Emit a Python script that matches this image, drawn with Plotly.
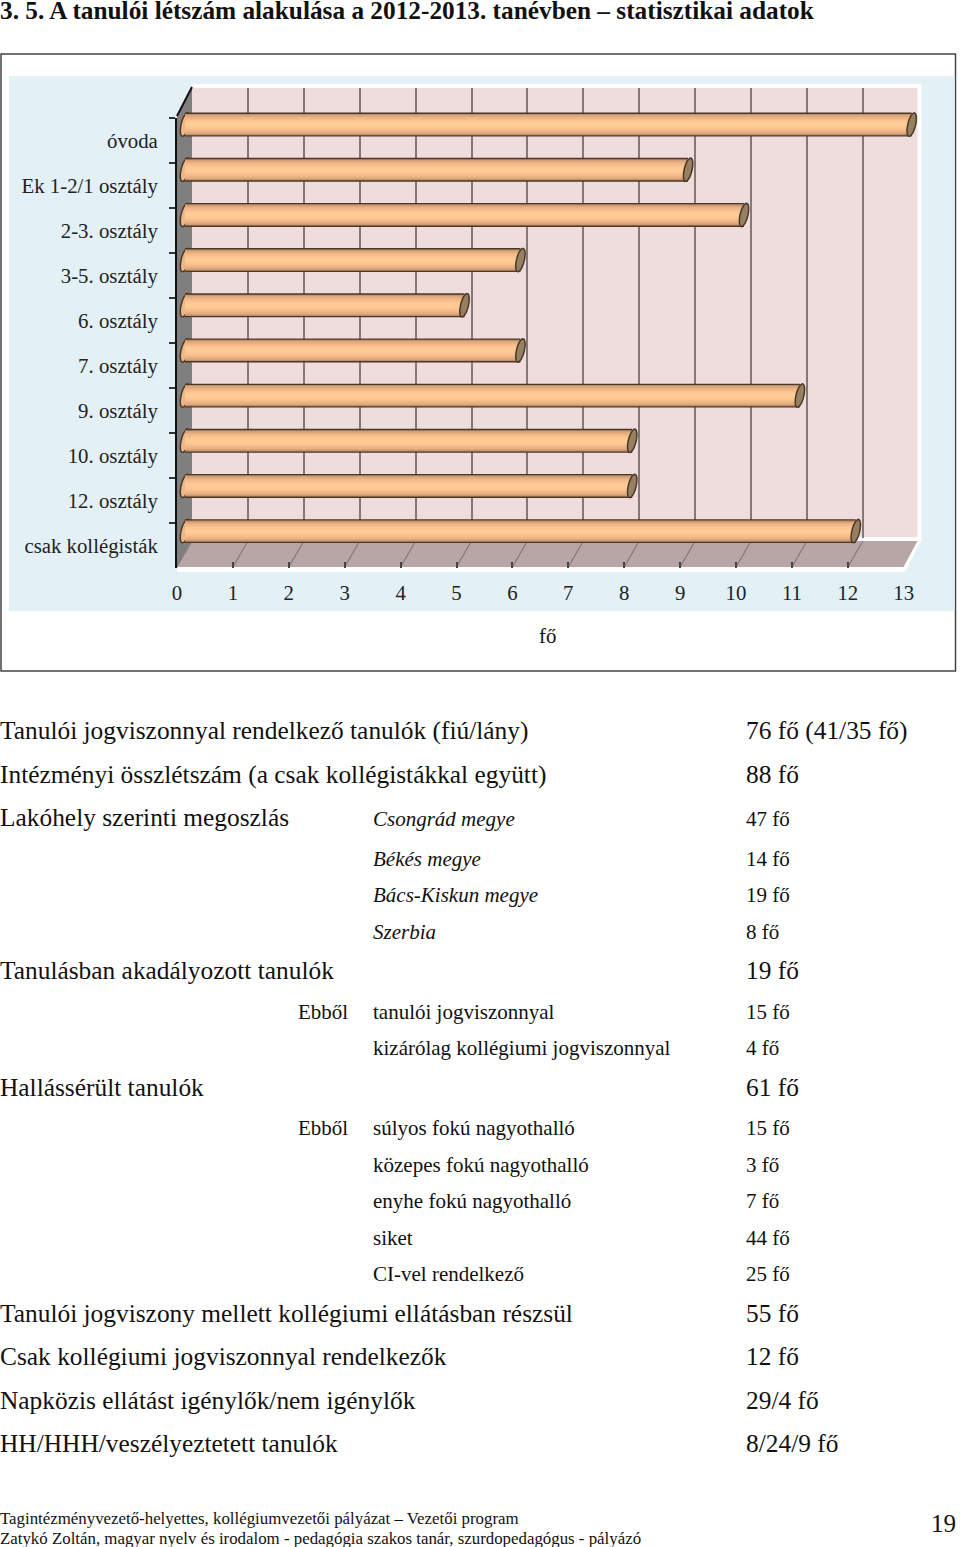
"""Tanulói létszám chart with the statistics table below it, drawn on one Plotly page."""

import math
import plotly.graph_objects as go

W, H = 960, 1547
SERIF = "Liberation Serif"

categories = ["óvoda", "Ek 1-2/1 osztály", "2-3. osztály", "3-5. osztály", "6. osztály",
              "7. osztály", "9. osztály", "10. osztály", "12. osztály", "csak kollégisták"]
counts = [13, 9, 10, 6, 5, 6, 11, 8, 8, 12]
x_ticks = list(range(14))

title_text = "3. 5. A tanulói létszám alakulása a 2012-2013. tanévben – statisztikai adatok"
axis_title = "fő"

main_labels = ["Tanulói jogviszonnyal rendelkező tanulók (fiú/lány)",
               "Intézményi összlétszám (a csak kollégistákkal együtt)",
               "Lakóhely szerinti megoszlás",
               "Tanulásban akadályozott tanulók",
               "Hallássérült tanulók",
               "Tanulói jogviszony mellett kollégiumi ellátásban részsül",
               "Csak kollégiumi jogviszonnyal rendelkezők",
               "Napközis ellátást igénylők/nem igénylők",
               "HH/HHH/veszélyeztetett tanulók"]
main_values = ["76 fő (41/35 fő)", "88 fő", "", "19 fő", "61 fő", "55 fő", "12 fő", "29/4 fő", "8/24/9 fő"]
main_rows = [730, 774, 817, 970, 1087, 1313, 1356, 1400, 1443]

county_labels = ["Csongrád megye", "Békés megye", "Bács-Kiskun megye", "Szerbia"]
county_values = ["47 fő", "14 fő", "19 fő", "8 fő"]
county_rows = [819, 859, 895, 932]

detail_labels = ["tanulói jogviszonnyal", "kizárólag kollégiumi jogviszonnyal",
                 "súlyos fokú nagyothalló", "közepes fokú nagyothalló", "enyhe fokú nagyothalló",
                 "siket", "CI-vel rendelkező"]
detail_values = ["15 fő", "4 fő", "15 fő", "3 fő", "7 fő", "44 fő", "25 fő"]
detail_rows = [1012, 1048, 1128, 1165, 1201, 1238, 1274]
ebbol_rows = [1012, 1128]

footer_lines = ["Tagintézményvezető-helyettes, kollégiumvezetői pályázat – Vezetői program",
                "Zatykó Zoltán, magyar nyelv és irodalom - pedagógia szakos tanár, szurdopedagógus - pályázó"]
footer_rows = [1518, 1538]
page_number = "19"

# tube shading: outer layer first, each one painted over the last
tube_widths = [0.53, 0.47, 0.42, 0.36, 0.30, 0.24, 0.18, 0.12, 0.06]
tube_colors = ["#4a3828", "#c08f68", "#dca67a", "#e8b080", "#efb888", "#f6be8e", "#fbc490", "#fec993", "#ffcc96"]


def fx(px):
    return px / W


def fy(py):
    return 1 - py / H


def poly(points, fill):
    path = "M " + " L ".join(f"{fx(a):.5f},{fy(b):.5f}" for a, b in points) + " Z"
    return dict(type="path", path=path, xref="paper", yref="paper", fillcolor=fill,
                line_width=0, layer="below")


def seg(x0, y0, x1, y1, color, width):
    return dict(type="line", xref="paper", yref="paper", x0=fx(x0), y0=fy(y0), x1=fx(x1), y1=fy(y1),
                line=dict(color=color, width=width), layer="below")


def cap(value, row, fill, layer):
    # slanted end of the tube, in the bar axes' own units
    pts = []
    for k in range(24):
        t = 2 * math.pi * k / 24
        xv = value + (4.0 * math.cos(t) + 2.5 * math.sin(t)) / 55.9
        yv = row - 11.7 * math.sin(t) / 45.17
        pts.append(f"{xv:.4f},{yv:.4f}")
    return dict(type="path", path="M " + " L ".join(pts) + " Z", xref="x3", yref="y3",
                fillcolor=fill, line=dict(color="#4a3828", width=1.5), layer=layer)


def label(text, x, y, size, **kw):
    # annotations render about 1px right of their anchor
    return dict(text=text, x=fx(x - 1), y=fy(y), xref="paper", yref="paper", xanchor=kw.pop("xanchor", "left"),
                yanchor="middle", showarrow=False, borderpad=0,
                font=dict(family=SERIF, size=size, color="#111111"), **kw)


fig = go.Figure()

# empty traces so the wall axes and the front axes are drawn
fig.add_trace(go.Scatter(x=x_ticks, y=[0] * len(x_ticks), xaxis="x", yaxis="y", mode="none", hoverinfo="skip"))
fig.add_trace(go.Bar(x=counts, y=categories, orientation="h", xaxis="x2", yaxis="y2", opacity=0, hoverinfo="skip"))

row_index = list(range(len(categories)))
for width, color in zip(tube_widths, tube_colors):
    fig.add_trace(go.Bar(x=counts, y=row_index, orientation="h", xaxis="x3", yaxis="y3",
                         width=width, marker=dict(color=color, line_width=0), hoverinfo="skip"))

shapes = [
    dict(type="rect", xref="paper", yref="paper", x0=fx(1), y0=fy(54), x1=fx(955.5), y1=fy(671),
         line=dict(color="#444444", width=1.5), fillcolor="white", layer="below"),
    dict(type="rect", xref="paper", yref="paper", x0=fx(9), y0=fy(76), x1=fx(954.5), y1=fy(611),
         line_width=0, fillcolor="#e3f0f6", layer="below"),
    poly([(192, 84), (921.5, 84), (921.5, 540), (905, 572), (177, 572), (177, 568)], "#ffffff"),
    dict(type="rect", xref="paper", yref="paper", x0=fx(192), y0=fy(88), x1=fx(917.5), y1=fy(537),
         line_width=0, fillcolor="#efdcdc", layer="below"),
    poly([(178, 567), (192, 541), (917.5, 541), (903.5, 567)], "#b8a6a6"),
    poly([(177, 116), (192, 87), (192, 540), (177, 568)], "#7f7f7f"),
    seg(177, 116, 192, 87, "#111111", 2),
]
for k in x_ticks[:-1]:
    shapes.append(seg(177 + 55.9 * k, 567, 192 + 55.9 * k, 541, "#857878", 1.2))
for i, v in zip(row_index, counts):
    shapes.append(cap(0, i, "#f0b684", "below"))
    shapes.append(cap(v, i, "#97805f", "above"))

notes = [label("<b>" + title_text + "</b>", 0, 10.5, 25.3)]
notes.append(label(axis_title, 548, 635, 20.8, xanchor="center"))
for text, value, y in zip(main_labels, main_values, main_rows):
    notes.append(label(text, 0, y, 25.4))
    if value:
        notes.append(label(value, 746, y, 25.4))
for text, value, y in zip(county_labels, county_values, county_rows):
    notes.append(label(f"<i>{text}</i>", 373, y, 21))
    notes.append(label(value, 746, y, 21))
for text, value, y in zip(detail_labels, detail_values, detail_rows):
    notes.append(label(text, 373, y, 21))
    notes.append(label(value, 746, y, 21))
for y in ebbol_rows:
    notes.append(label("Ebből", 298, y, 21))
for text, y in zip(footer_lines, footer_rows):
    notes.append(label(text, 0, y, 16.85))
notes.append(label(page_number, 958, 1523, 25, xanchor="right"))

fig.update_layout(
    width=W,
    height=H,
    autosize=False,
    margin=dict(l=0, r=0, t=0, b=0, autoexpand=False),
    paper_bgcolor="white",
    plot_bgcolor="rgba(0,0,0,0)",
    showlegend=False,
    barmode="overlay",
    shapes=shapes,
    annotations=notes,
    # back wall
    xaxis=dict(domain=[fx(192), fx(918.7)], range=[0, 13], anchor="y", tickvals=x_ticks, showgrid=True,
               gridcolor="#857878", gridwidth=1.5, showticklabels=False, zeroline=False, ticks=""),
    yaxis=dict(domain=[fy(538), fy(88)], range=[0, 1], anchor="x", visible=False),
    # front axes with the labels
    xaxis2=dict(domain=[fx(177), fx(903.7)], range=[0, 13], anchor="y2", tickmode="array", tickvals=x_ticks,
                showgrid=False, zeroline=False, ticks="inside", ticklen=6, tickwidth=1.5, tickcolor="#444444",
                ticklabelstandoff=10, tickfont=dict(family=SERIF, size=20.8, color="#222222")),
    yaxis2=dict(domain=[fy(568), fy(118)], type="category", categoryorder="array", categoryarray=categories,
                autorange="reversed", anchor="x2", tickson="boundaries", ticks="outside", ticklen=6, tickwidth=1.5,
                tickcolor="#333333", showline=True, linecolor="#111111", linewidth=2, showgrid=False,
                ticklabelstandoff=13, tickfont=dict(family=SERIF, size=20.8, color="#222222")),
    # tubes sit part way between the wall and the front; range runs past 0 and 13 so the end caps are not clipped
    xaxis3=dict(domain=[fx(185 - 0.2 * 55.9), fx(185 + 13.3 * 55.9)], range=[-0.2, 13.3], anchor="y3", visible=False),
    yaxis3=dict(domain=[fy(553.7), fy(102)], range=[9.5, -0.5], anchor="x3", visible=False),
)

fig.write_html("out.html", config={"displayModeBar": False}, post_script="document.body.style.margin='0';")
